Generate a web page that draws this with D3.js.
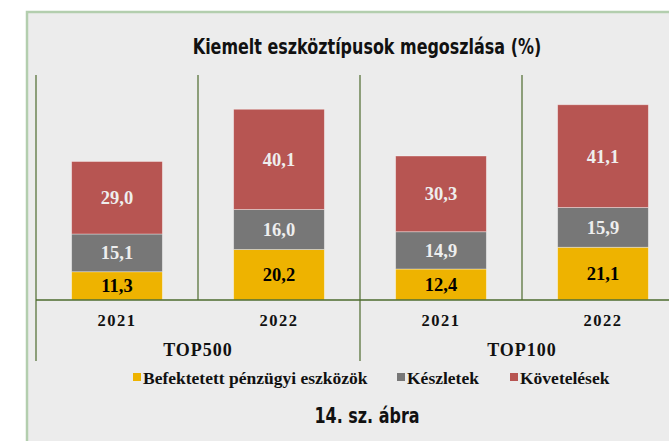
<!DOCTYPE html>
<html>
<head>
<meta charset="utf-8">
<script src="https://cdn.jsdelivr.net/npm/d3@7"></script>
<style>
  body { margin: 0; background: #fff; }
  svg { display: block; }
</style>
</head>
<body>
<div id="chart"></div>
<script>
// Data
const groups = ["TOP500", "TOP100"];
const years = ["2021", "2022"];
const befektetett = [11.3, 20.2, 12.4, 21.1];
const keszletek = [15.1, 16.0, 14.9, 15.9];
const kovetelesek = [29.0, 40.1, 30.3, 41.1];
const seriesNames = ["Befektetett pénzügyi eszközök", "Készletek", "Követelések"];
const colors = ["#eeb300", "#777777", "#b75552"];
const labelColors = ["#000000", "#eeeeee", "#eeeeee"];

const width = 669;
const height = 441;
const plotTop = 75;
const baseY = 300;
const left = 36;
const right = 684;

const cats = [];
groups.forEach(g => years.forEach(y => cats.push(g + "|" + y)));

const rows = cats.map((c, i) => ({
  cat: c,
  b: befektetett[i],
  k: keszletek[i],
  v: kovetelesek[i]
}));

const svg = d3.select("#chart")
  .append("svg")
  .attr("width", width)
  .attr("height", height);

// Panel frame
svg.append("rect")
  .attr("x", 27).attr("y", 12)
  .attr("width", 700).attr("height", 500)
  .attr("fill", "#ececec")
  .attr("stroke", "#b3ceae")
  .attr("stroke-width", 2.5);

// condensed heading text (squeezed horizontally)
function heading(cx, cy, txt) {
  svg.append("g")
    .attr("transform", "translate(" + cx + "," + cy + ") scale(0.76,1)")
    .append("text")
    .attr("text-anchor", "middle")
    .style("font-family", "'DejaVu Sans', sans-serif")
    .style("font-weight", "bold")
    .style("font-size", "21px")
    .attr("fill", "#111")
    .text(txt);
}

heading(367, 54, "Kiemelt eszköztípusok megoszlása (%)");

// Scales
const x = d3.scaleBand()
  .domain(cats)
  .range([left, right])
  .paddingInner(0.44)
  .paddingOuter(0.22);

const y = d3.scaleLinear()
  .domain([0, 90])
  .range([baseY, plotTop]);

const step = x.step();
const lineColor = "#4d6b2e";

// vertical separators
const sepX = d3.range(cats.length + 1).map(i => left + i * step);
svg.append("g")
  .selectAll("line")
  .data(sepX).enter()
  .append("line")
  .attr("x1", d => d).attr("x2", d => d)
  .attr("y1", y(90))
  .attr("y2", (d, i) => i % 2 === 0 ? 361 : baseY)
  .attr("stroke", lineColor)
  .attr("stroke-width", 1.2);

// Bars
const stack = d3.stack().keys(["b", "k", "v"]);
const stacked = stack(rows);

const layers = svg.append("g")
  .selectAll("g")
  .data(stacked).enter()
  .append("g")
  .attr("fill", (d, i) => colors[i]);

layers.selectAll("rect")
  .data(d => d).enter()
  .append("rect")
  .attr("x", d => x(d.data.cat))
  .attr("y", d => y(d[1]))
  .attr("width", x.bandwidth())
  .attr("height", d => y(d[0]) - y(d[1]))
  .attr("stroke", "rgba(255,255,255,0.45)")
  .attr("stroke-width", 0.8);

// Value labels
stacked.forEach((layer, li) => {
  svg.append("g")
    .selectAll("text")
    .data(layer).enter()
    .append("text")
    .attr("x", d => x(d.data.cat) + x.bandwidth() / 2)
    .attr("y", d => (y(d[0]) + y(d[1])) / 2 + 6.5)
    .attr("text-anchor", "middle")
    .style("font-family", "'Liberation Serif', 'Times New Roman', serif")
    .style("font-weight", "bold")
    .style("font-size", "18.5px")
    .attr("fill", labelColors[li])
    .text(d => d3.format(".1f")(d[1] - d[0]).replace(".", ","));
});

// Baseline
svg.append("line")
  .attr("x1", left).attr("x2", right)
  .attr("y1", baseY).attr("y2", baseY)
  .attr("stroke", lineColor)
  .attr("stroke-width", 1.5);

// Year labels
svg.append("g")
  .selectAll("text")
  .data(cats).enter()
  .append("text")
  .attr("x", d => x(d) + x.bandwidth() / 2)
  .attr("y", 326)
  .attr("text-anchor", "middle")
  .style("font-family", "'Liberation Serif', 'Times New Roman', serif")
  .style("font-weight", "bold")
  .style("font-size", "16.5px")
  .style("letter-spacing", "1.5px")
  .attr("fill", "#111")
  .text(d => d.split("|")[1]);

// Group labels
svg.append("g")
  .selectAll("text")
  .data(groups).enter()
  .append("text")
  .attr("x", (d, i) => left + step * (2 * i + 1))
  .attr("y", 356)
  .attr("text-anchor", "middle")
  .style("font-family", "'Liberation Serif', 'Times New Roman', serif")
  .style("font-weight", "bold")
  .style("font-size", "18px")
  .style("letter-spacing", "1px")
  .attr("fill", "#111")
  .text(d => d);

// Legend
const legend = svg.append("g")
  .attr("transform", "translate(133,378)");
const legendX = [0, 264, 377];
const lg = legend.selectAll("g")
  .data(seriesNames).enter()
  .append("g")
  .attr("transform", (d, i) => "translate(" + legendX[i] + ",0)");
lg.append("rect")
  .attr("x", 0).attr("y", -5)
  .attr("width", 8).attr("height", 8)
  .attr("fill", (d, i) => colors[i]);
lg.append("text")
  .attr("x", 10).attr("y", 5.5)
  .style("font-family", "'Liberation Serif', 'Times New Roman', serif")
  .style("font-weight", "bold")
  .style("font-size", "17.5px")
  .attr("fill", "#111")
  .text(d => d);

// Figure caption
heading(367, 423, "14. sz. ábra");
</script>
</body>
</html>
